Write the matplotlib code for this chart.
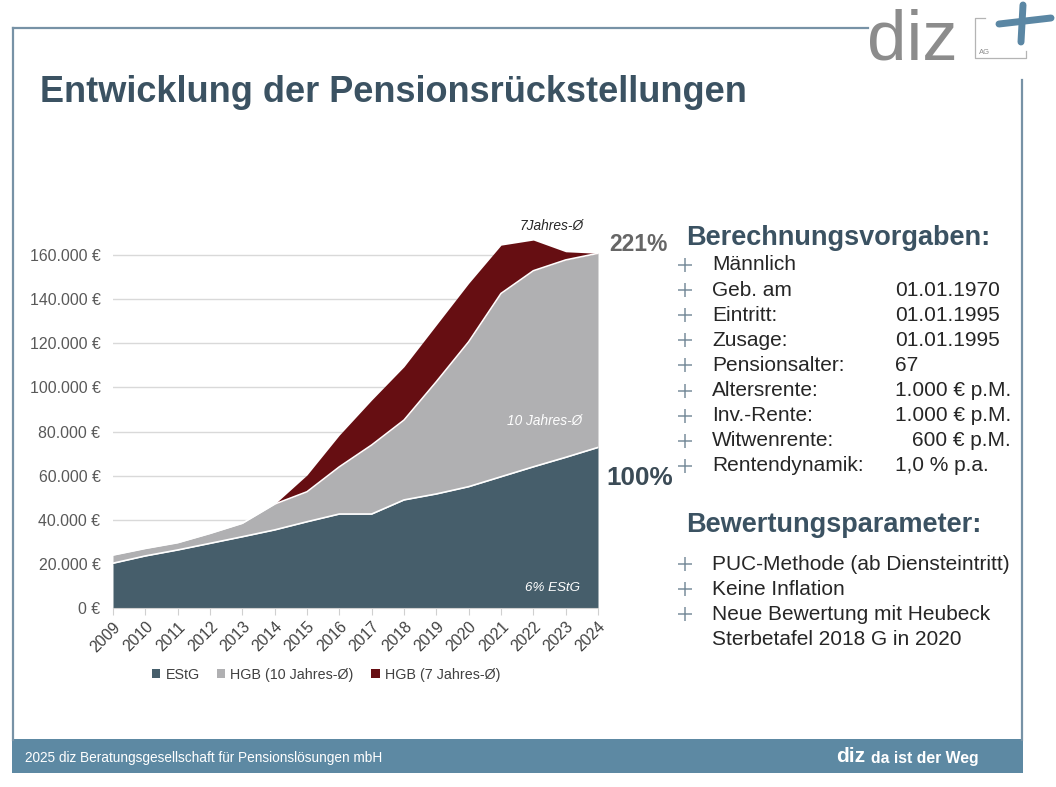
import matplotlib
matplotlib.use("Agg")
import matplotlib.pyplot as plt
from matplotlib.patches import Patch, Rectangle
from matplotlib.lines import Line2D
from matplotlib.ticker import FuncFormatter

plt.rcParams['font.family'] = ['Liberation Sans', 'DejaVu Sans']

# ---------------- data ----------------
years = list(range(2009, 2025))
estg = [20300, 23600, 26300, 29300, 32300, 35400, 39100, 42600, 42600, 49000,
        51700, 55000, 59500, 64000, 68300, 72800]
hgb10 = [24000, 27000, 29600, 33800, 38400, 47100, 52700, 64000, 73900, 85200,
         102600, 120700, 142600, 152900, 157800, 160800]
hgb7 = [24000, 27000, 29600, 33800, 38400, 47100, 60300, 78400, 94300, 109400,
        128300, 147200, 164500, 166800, 161500, 160800]
series_names = ["EStG", "HGB (10 Jahres-Ø)", "HGB (7 Jahres-Ø)"]
yticks = [0, 20000, 40000, 60000, 80000, 100000, 120000, 140000, 160000]

title = "Entwicklung der Pensionsrückstellungen"
head1 = "Berechnungsvorgaben:"
items1 = ["Männlich", "Geb. am", "Eintritt:", "Zusage:", "Pensionsalter:",
          "Altersrente:", "Inv.-Rente:", "Witwenrente:", "Rentendynamik:"]
values1 = ["", "01.01.1970", "01.01.1995", "01.01.1995", "67",
           "1.000 € p.M.", "1.000 € p.M.", "600 € p.M.", "1,0 % p.a."]
head2 = "Bewertungsparameter:"
items2 = ["PUC-Methode (ab Diensteintritt)", "Keine Inflation",
          "Neue Bewertung mit Heubeck", "Sterbetafel 2018 G in 2020"]
bullets2 = [True, True, True, False]
footer_left = "2025 diz Beratungsgesellschaft für Pensionslösungen mbH"

# ---------------- style ----------------
W, H = 1056, 787
C_ESTG = "#465e6b"
C_HGB10 = "#b0b0b2"
C_HGB7 = "#660e12"
C_TITLE = "#3b5262"
C_FRAME = "#7792a6"
C_FOOT = "#5d89a3"
C_TEXT = "#262626"
C_BUL = "#7a8e9c"
FS_BODY = 15


def fx(x):
    return x / W


def fy(y):
    return 1 - y / H


fig = plt.figure(figsize=(W / 100, H / 100), dpi=100)
fig.patch.set_facecolor("white")

# frame
fig.add_artist(Line2D([fx(13), fx(13)], [fy(28), fy(740)], color=C_FRAME, lw=1.6))
fig.add_artist(Line2D([fx(13), fx(868)], [fy(28), fy(28)], color=C_FRAME, lw=1.6))
fig.add_artist(Line2D([fx(1022), fx(1022)], [fy(80), fy(740)], color=C_FRAME, lw=1.6))
fig.add_artist(Rectangle((fx(12), fy(773)), fx(1023) - fx(12), fy(739) - fy(773),
                         transform=fig.transFigure, facecolor=C_FOOT, edgecolor="none"))
fig.text(fx(25), fy(758), footer_left, color="white", fontsize=9.8, va="center")
fig.text(fx(836), fy(757), "diz", color="white", fontsize=15, fontweight="bold", va="center")
fig.text(fx(871), fy(759), "da ist der Weg", color="white", fontsize=11.3,
         fontweight="bold", va="center")

# logo
fig.text(fx(867), fy(60), "diz", color="#8c8c8c", fontsize=51, va="baseline", ha="left")
fig.add_artist(Line2D([fx(985), fx(975), fx(975), fx(1026), fx(1026)],
                      [fy(18), fy(18), fy(58), fy(58), fy(51)], color="#b4b4b4", lw=0.9))
fig.text(fx(979), fy(52), "AG", color="#8c8c8c", fontsize=5.5, va="center")
fig.add_artist(Line2D([fx(999), fx(1051)], [fy(24), fy(18)], color="#5b87a4", lw=5,
                      solid_capstyle="round"))
fig.add_artist(Line2D([fx(1023), fx(1021)], [fy(5), fy(42)], color="#5b87a4", lw=5,
                      solid_capstyle="round"))

# title
fig.text(fx(40), fy(92), title, color=C_TITLE, fontsize=26, fontweight="bold", va="center")

# ---------------- chart ----------------
ax = fig.add_axes([fx(113), fy(608), fx(598) - fx(113), fy(222) - fy(608)])
ax.fill_between(years, 0, estg, color=C_ESTG, lw=0, zorder=3)
ax.fill_between(years, estg, hgb10, color=C_HGB10, lw=0, zorder=3)
ax.fill_between(years, hgb10, hgb7, color=C_HGB7, lw=0, zorder=3)
ax.plot(years, estg, color="white", lw=1.2, zorder=4)
ax.plot(years, hgb10, color="white", lw=1.2, zorder=4)

ax.set_xlim(years[0], years[-1])
ax.set_ylim(0, 175000)
ax.set_yticks(yticks)
ax.yaxis.set_major_formatter(FuncFormatter(lambda v, p: f"{v:,.0f} €".replace(",", ".")))
ax.grid(axis="y", color="#d9d9d9", lw=1, zorder=0)
ax.set_axisbelow(True)
ax.set_xticks(years)
ax.set_xticklabels([str(y) for y in years], rotation=45, ha="right",
                   rotation_mode="anchor", fontsize=11.3, color="#404040")
for s in ["top", "right", "left"]:
    ax.spines[s].set_visible(False)
ax.spines["bottom"].set_color("#d0d0d0")
ax.spines["bottom"].set_zorder(5)
ax.tick_params(axis="y", length=0, pad=9, labelsize=11.4, labelcolor="#595959")
ax.tick_params(axis="x", length=5, color="#d0d0d0", pad=3)
ax.set_facecolor("none")

ax.text(2023.55, 173000, "7Jahres-Ø", fontsize=9.9, style="italic", color="#262626",
        ha="right", va="center", clip_on=False)
ax.text(2023.5, 85000, "10 Jahres-Ø", fontsize=9.8, style="italic", color="white",
        ha="right", va="center", zorder=6)
ax.text(2023.45, 9000, "6% EStG", fontsize=9.6, style="italic", color="white",
        ha="right", va="center", zorder=6)

handles = [Patch(facecolor=c, edgecolor="none") for c in (C_ESTG, C_HGB10, C_HGB7)]
leg = fig.legend(handles, series_names, loc="center", bbox_to_anchor=(fx(326), fy(675)),
                 ncol=3, frameon=False, fontsize=10.3, handlelength=0.6, handleheight=0.6,
                 handletextpad=0.35, columnspacing=1.2)
for t in leg.get_texts():
    t.set_color("#404040")

# percentages
fig.text(fx(638), fy(245), "221%", color="#666666", fontsize=16.5, fontweight="bold",
         ha="center", va="center")
fig.text(fx(640), fy(478), "100%", color="#3b4b56", fontsize=18.8, fontweight="bold",
         ha="center", va="center")

# ---------------- right text ----------------
fig.text(fx(686), fy(238), head1, color=C_TITLE, fontsize=19.5, fontweight="bold", va="center")
y0, dy = 265, 25.1
for i, (it, val) in enumerate(zip(items1, values1)):
    yy = y0 + i * dy
    fig.add_artist(Line2D([fx(685)], [fy(yy)], marker="+", ms=10, mew=1.1, color=C_BUL))
    fig.text(fx(712), fy(yy), it, color=C_TEXT, fontsize=FS_BODY, va="center")
    if val:
        if val.endswith("p.M."):
            fig.text(fx(1011), fy(yy), val, color=C_TEXT, fontsize=FS_BODY, va="center",
                     ha="right")
        else:
            fig.text(fx(895), fy(yy), val, color=C_TEXT, fontsize=FS_BODY, va="center")

fig.text(fx(686), fy(525), head2, color=C_TITLE, fontsize=19.5, fontweight="bold", va="center")
y0 = 564
for i, (it, b) in enumerate(zip(items2, bullets2)):
    yy = y0 + i * dy
    if b:
        fig.add_artist(Line2D([fx(685)], [fy(yy)], marker="+", ms=10, mew=1.1, color=C_BUL))
    fig.text(fx(712), fy(yy), it, color=C_TEXT, fontsize=FS_BODY, va="center")

fig.savefig("out.png", dpi=100)
